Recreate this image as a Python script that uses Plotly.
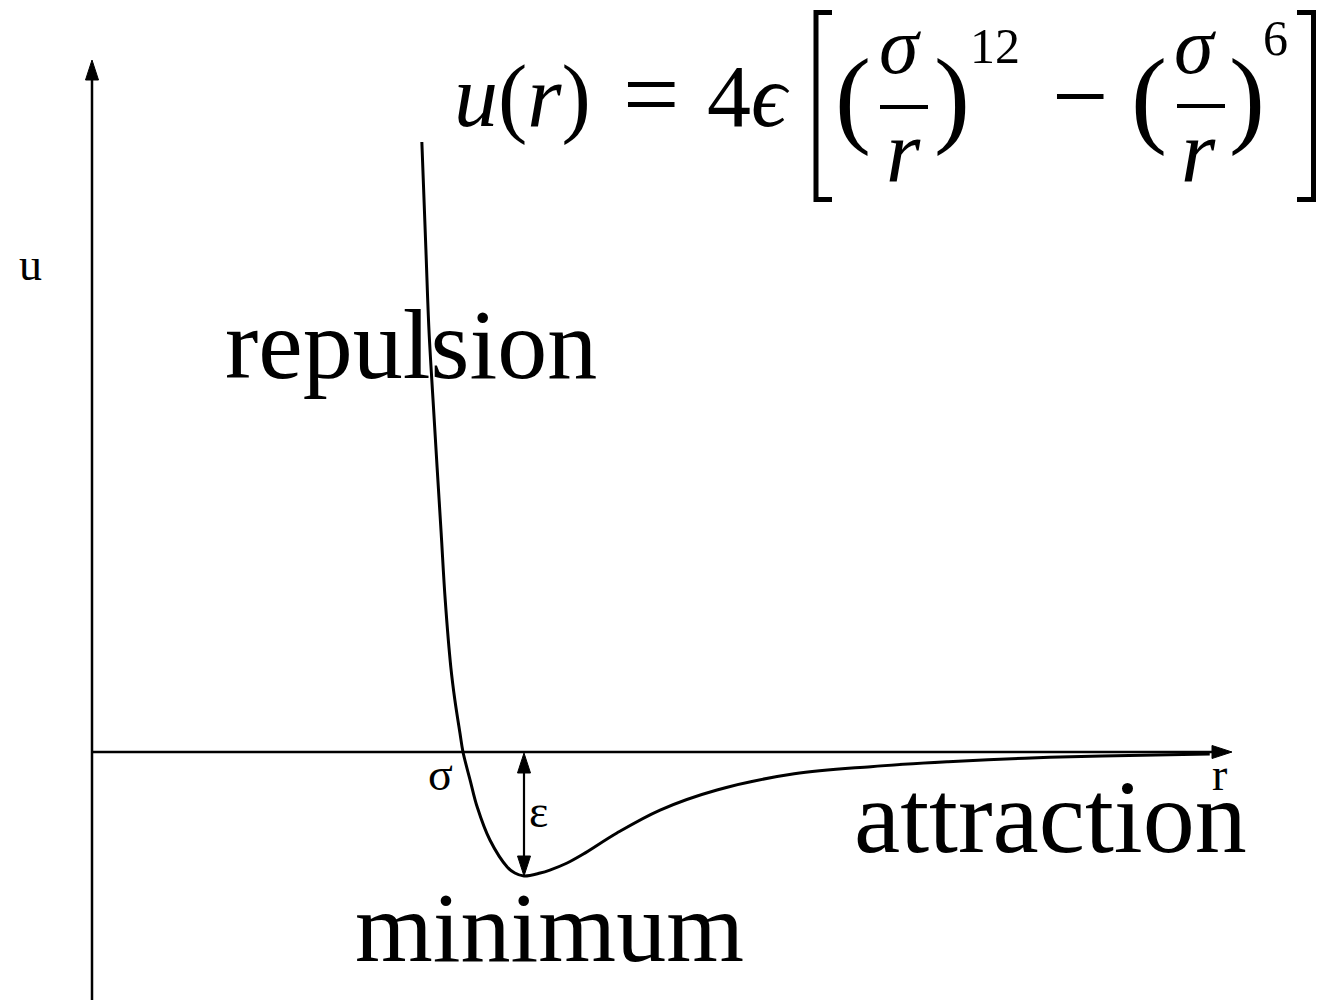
import plotly.graph_objects as go

# ---------------- data (r in units of sigma, u in units of epsilon)
r_values = [0.919, 0.927, 0.933, 0.941, 0.949, 0.957, 0.965, 0.976, 0.984, 0.994,
            1.000, 1.014, 1.028, 1.053, 1.087, 1.102, 1.120, 1.152, 1.171, 1.205, 1.236,
            1.303, 1.388, 1.500, 1.652, 1.803, 1.955, 2.106, 2.258, 2.470]
u_values = [4.919, 4.048, 3.403, 2.839, 2.298, 1.766, 1.226, 0.685, 0.419, 0.153,
            0.000, -0.226, -0.444, -0.710, -0.927, -0.976, -1.000, -0.976, -0.952, -0.895, -0.825,
            -0.653, -0.468, -0.306, -0.176, -0.118, -0.079, -0.050, -0.032, -0.016]

axis_labels = {"u": "u", "r": "r"}
marker_labels = {"sigma": "σ", "epsilon": "ε"}
region_labels = ["repulsion", "attraction", "minimum"]

# ---------------- layout mapping (pixel <-> data)
W, H = 1327, 1000
X0, SX = -45.0, 508.0      # r = (px - X0) / SX
Y0, SY = 752.0, 124.0      # u = (Y0 - py) / SY


def dx(px):
    return (px - X0) / SX


def dy(py):
    return (Y0 - py) / SY


SERIF = "Liberation Serif, Times New Roman, DejaVu Serif, serif"
BLACK = "black"

fig = go.Figure()

fig.add_trace(go.Scatter(x=r_values, y=u_values, mode="lines",
                         line=dict(color=BLACK, width=3, shape="spline", smoothing=1.0),
                         hoverinfo="skip", showlegend=False))


def seg(x1, y1, x2, y2, w=2.5):
    fig.add_shape(type="line", xref="x", yref="y", x0=dx(x1), y0=dy(y1), x1=dx(x2), y1=dy(y2),
                  line=dict(color=BLACK, width=w), layer="above")


def poly(pts, w=1, fill=True):
    path = "M " + " L ".join(f"{dx(a):.5f},{dy(b):.5f}" for a, b in pts)
    if fill:
        path += " Z"
    fig.add_shape(type="path", xref="x", yref="y", path=path,
                  fillcolor=BLACK if fill else None,
                  line=dict(color=BLACK, width=w), layer="above")


def label(text, cx, baseline, size, anchor="center"):
    ymid = baseline - 0.3375 * size
    fig.add_annotation(x=dx(cx), y=dy(ymid), text=text, xref="x", yref="y",
                       xanchor=anchor, yanchor="middle", showarrow=False, borderpad=0,
                       font=dict(family=SERIF, size=size, color=BLACK))


# axes with arrows
seg(92, 1000, 92, 78)
poly([(85.5, 80), (92, 60), (98.5, 80)])
seg(92, 752, 1214, 752)
poly([(1212, 745.5), (1232, 752), (1212, 758.5)])

# epsilon double arrow
seg(524, 770, 524, 859, w=2.2)
poly([(517.5, 773), (524, 753), (530.5, 773)])
poly([(517.5, 856), (524, 876), (530.5, 856)])

# small labels
label(axis_labels["u"], 30, 280, 46)
label(axis_labels["r"], 1219, 790, 46)
label(marker_labels["sigma"], 440, 790, 46)
label(marker_labels["epsilon"], 538, 827, 46)

# big region labels
label(region_labels[0], 411, 378, 100)
label(region_labels[1], 1050, 852, 104)
label(region_labels[2], 549, 961, 100)

# formula u(r) = 4 eps [ (sigma/r)^12 - (sigma/r)^6 ]
FS = 88
label("<i>u</i>(<i>r</i>)", 453, 126, FS, anchor="left")
label("=", 651, 128, 100)
label("4<i>ϵ</i>", 706, 126, FS, anchor="left")

# square brackets
poly([(832, 12.5), (816, 12.5), (816, 199.5), (832, 199.5)], w=5, fill=False)
poly([(1297, 12.5), (1313.5, 12.5), (1313.5, 199.5), (1297, 199.5)], w=5, fill=False)

PS = 108
PB = 105.5 + 0.2585 * PS
NS = 80
# first fraction
label("(", 853, PB, PS)
label("<i>σ</i>", 900, 73, NS)
seg(880, 107, 928, 107, w=4)
label("<i>r</i>", 903, 181, FS)
label(")", 952, PB, PS)
label("12", 995, 63, 50)
# minus
label("−", 1080, 130, 100)
# second fraction
label("(", 1149, PB, PS)
label("<i>σ</i>", 1195, 73, NS)
seg(1177, 106, 1225, 106, w=4)
label("<i>r</i>", 1198, 181, FS)
label(")", 1247, PB, PS)
label("6", 1275, 55, 50)

fig.update_layout(
    width=W, height=H, autosize=False,
    margin=dict(l=0, r=0, t=0, b=0, pad=0),
    paper_bgcolor="white", plot_bgcolor="white",
    xaxis=dict(range=[dx(0), dx(W)], visible=False, fixedrange=True),
    yaxis=dict(range=[dy(H), dy(0)], visible=False, fixedrange=True),
    showlegend=False,
)

fig.write_html("out.html", config={"displayModeBar": False},
               post_script="document.body.style.margin='0';document.body.style.overflow='hidden';")
